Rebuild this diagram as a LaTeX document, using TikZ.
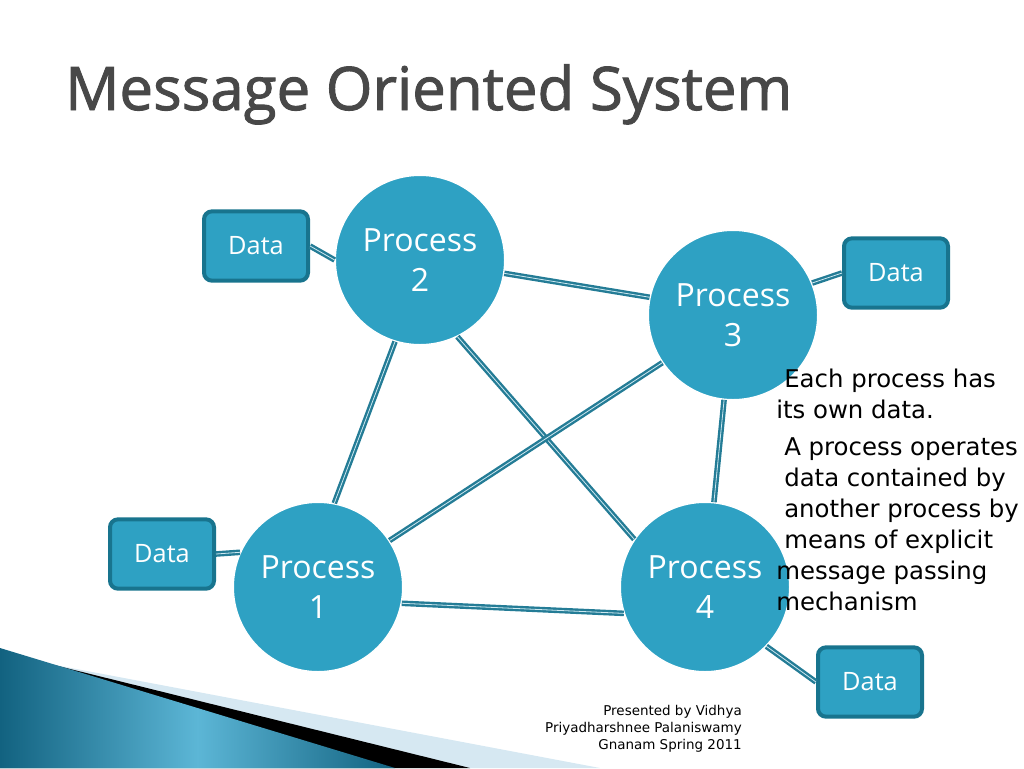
\documentclass[tikz,border=0pt]{standalone}
\usepackage{fontspec}
\setmainfont{DejaVu Sans}
\newfontfamily\slidefont{Open Sans}
\newfontfamily\headfont{Open Sans}[FakeBold=1.6]
\usetikzlibrary{positioning}

\definecolor{procblue}{RGB}{46,161,195}
\definecolor{boxedge}{RGB}{24,116,142}
\definecolor{linkblue}{RGB}{36,124,150}
\definecolor{linkpale}{RGB}{205,232,240}
\definecolor{titlegray}{RGB}{72,72,72}
\definecolor{wedgedark}{RGB}{18,98,128}
\definecolor{wedgelight}{RGB}{92,182,214}
\definecolor{wedgepale}{RGB}{214,232,242}

\begin{document}
\begin{tikzpicture}[x=0.75pt,y=-0.75pt,
  proc/.style={circle,fill=procblue,draw=white,line width=1pt,minimum size=127pt,inner sep=0pt,
    align=center,text=white,font=\slidefont\fontsize{24}{30}\selectfont},
  databox/.style={rectangle,rounded corners=6pt,fill=procblue,draw=boxedge,line width=3pt,
    minimum width=78pt,minimum height=52pt,text=white,font=\slidefont\fontsize{19}{22}\selectfont},
  link/.style={draw=linkblue,double=linkpale,double distance=0.6pt,line width=1.8pt}]
  \useasboundingbox (0,0) rectangle (1024,768);

  % corner wedge
  \fill[wedgepale] (50,664) -- (600,768) -- (0,768) -- cycle;
  \fill[black] (50,664) -- (470,768) -- (0,768) -- cycle;
  \shade[left color=wedgedark,right color=wedgedark,middle color=wedgelight]
    (0,648) -- (395,768) -- (0,768) -- cycle;

  \node[anchor=base west,inner sep=0pt,text=titlegray,font=\headfont\fontsize{45}{54}\selectfont]
       (title) at (65,110) {Message Oriented System};

  % processes
  \node[proc] (p2) at (420,260) {Process\\2};
  \node[proc] (p3) at (733,315) {Process\\3};
  \node[proc] (p1) at (318,587) {Process\\1};
  \node[proc] (p4) at (705,587) {Process\\4};

  % data
  \node[databox] (d2) at (256,246) {Data};
  \node[databox] (d3) at (896,273) {Data};
  \node[databox] (d1) at (162,554) {Data};
  \node[databox] (d4) at (870,682) {Data};

  \draw[link] (d2.east) -- (p2.west);
  \draw[link] (p2.-9) -- (p3.168);
  \draw[link] (p2.-107) -- (p1.79);
  \draw[link] (p2.-64) -- (p4.146);
  \draw[link] (p3.-146) -- (p1.33);
  \draw[link] (p3.-96) -- (p4.84);
  \draw[link] (p1.-11) -- (p4.-162);
  \draw[link] (p3.22) -- (d3.west);
  \draw[link] (d1.east) -- (p1.156);
  \draw[link] (p4.-44) -- (d4.west);

  \node[anchor=north west,inner sep=0pt,align=left,font=\fontsize{18.3}{23.25}\selectfont]
       (note1) at (776,369) {\hspace*{6pt}Each process has\\its own data.};
  \node[anchor=north west,inner sep=0pt,align=left,font=\fontsize{18.3}{23.25}\selectfont]
       (note2) at (776,437) {\hspace*{6pt}A process operates\\\hspace*{6pt}data contained by\\
       \hspace*{6pt}another process by\\\hspace*{6pt}means of explicit\\message passing\\mechanism};

  \node[anchor=north east,inner sep=0pt,align=right,font=\fontsize{10.1}{12.75}\selectfont]
       (credit) at (742,705) {Presented by Vidhya\\Priyadharshnee Palaniswamy\\Gnanam Spring 2011};
\end{tikzpicture}
\end{document}
